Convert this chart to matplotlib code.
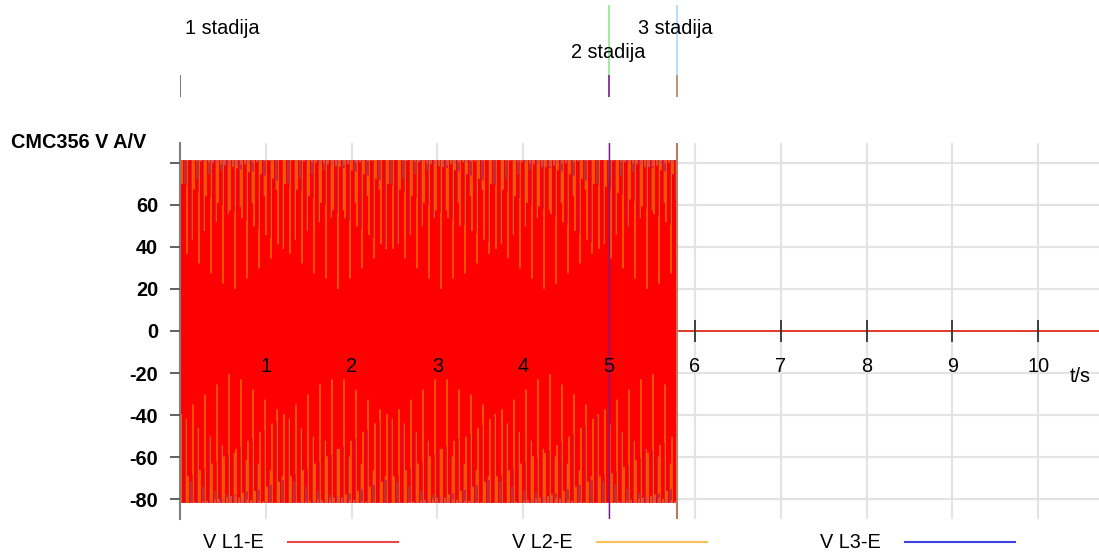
import numpy as np
import matplotlib
matplotlib.use("Agg")
import matplotlib.pyplot as plt
from matplotlib.lines import Line2D

plt.rcParams["font.family"] = ["Liberation Sans", "DejaVu Sans"]

# --- recorded quantities -------------------------------------------------
phase_names = ["V L1-E", "V L2-E", "V L3-E"]
peak_volts = [81.6, 81.6, 81.6]          # sine peak of each phase-to-earth voltage
phase_angle_deg = [0.0, -120.0, 120.0]
mains_hz = 50.0
signal_end_s = 5.79                      # output switched off here
record_end_s = 10.707

stage_names = ["1 stadija", "2 stadija", "3 stadija"]
stage_times = [0.0, 5.0, 5.79]

y_ticks = [-80, -60, -40, -20, 0, 20, 40, 60, 80]
y_tick_labels = ["-80", "-60", "-40", "-20", "0", "20", "40", "60", ""]
x_ticks = [1, 2, 3, 4, 5, 6, 7, 8, 9, 10]

# --- styling --------------------------------------------------------------
phase_colors = ["#ff0000", "#ffa500", "#1010ee"]
legend_colors = ["#e84848", "#f7c15a", "#4040e0"]
stage_top_colors = [None, "#90e890", "#b0d8f8"]
stage_low_colors = ["#606060", "#7a1a8a", "#b08060"]
FS = 14.3

W, H = 1099, 554
fig = plt.figure(figsize=(W / 100, H / 100), dpi=100)

x0_px, x1_px = 180.0, 1099.0
top_px, bot_px = 143.0, 519.0
ax = fig.add_axes([x0_px / W, 1 - bot_px / H, (x1_px - x0_px) / W, (bot_px - top_px) / H])
ax.set_xlim(0, record_end_s)
ax.set_ylim(-89.5, 89.5)

# background grid
ax.vlines(x_ticks, -89.5, 89.5, color="#e3e3e3", lw=1.5, zorder=1)
ax.hlines(y_ticks, 0, record_end_s, color="#e3e3e3", lw=1.5, zorder=1)

# sampled record of the three phase voltages
fs = 10000.0
t = np.arange(0, record_end_s, 1 / fs)
on = t < signal_end_s
waves = []
for k in range(3):
    v = peak_volts[k] * np.sin(2 * np.pi * mains_hz * t + np.deg2rad(phase_angle_deg[k]))
    v[~on] = 0.0
    waves.append(v)

# min/max envelope per screen pixel column (oscilloscope-style decimation)
fig.canvas.draw()
bbox = ax.get_window_extent()
bin_w = record_end_s / bbox.width
t_on = t[on]
idx = np.floor(t_on / bin_w).astype(int)
starts = np.flatnonzero(np.r_[True, np.diff(idx) > 0])
edges = idx[starts] * bin_w
edges = np.r_[edges, min(edges[-1] + bin_w, signal_end_s)]
for k in (2, 1, 0):
    seg = waves[k][on]
    lo = np.minimum.reduceat(seg, starts)
    hi = np.maximum.reduceat(seg, starts)
    ax.fill_between(edges, np.r_[lo, lo[-1]], np.r_[hi, hi[-1]], step="post",
                    color=phase_colors[k], lw=0, zorder=3 + (2 - k))
    ax.plot(t[~on], waves[k][~on], color=phase_colors[k], lw=0.8, zorder=3 + (2 - k))

# stage markers inside the plot
ax.axvline(stage_times[1], color=stage_low_colors[1], lw=1.0, zorder=8)
ax.axvline(stage_times[2], color=stage_low_colors[2], lw=1.5, zorder=8)

# axes styling
for s in ("top", "right"):
    ax.spines[s].set_visible(False)
ax.spines["bottom"].set_position(("data", 0))
ax.spines["bottom"].set_visible(False)
ax.spines["left"].set_color("#808080")
ax.spines["left"].set_linewidth(1.5)
ax.spines["left"].set_zorder(9)
ax.xaxis.set_zorder(20)
ax.yaxis.set_zorder(20)

ax.set_yticks(y_ticks)
ax.set_yticklabels(y_tick_labels, fontsize=FS, fontweight="bold")
ax.tick_params(axis="y", direction="out", length=7.2, width=1.3, color="#555555", pad=8.6)

ax.set_xticks(x_ticks)
ax.set_xticklabels([str(v) for v in x_ticks], fontsize=FS)
ax.tick_params(axis="x", direction="inout", length=15.8, width=1.3, color="#333333", pad=11.0)
for pos, tk in zip(x_ticks, ax.xaxis.get_major_ticks()):
    if pos < signal_end_s:
        tk.tick1line.set_visible(False)

# labels
fig.text(11 / W, 1 - 142 / H, "CMC356 V A/V", fontsize=FS, fontweight="bold", va="center", ha="left")
fig.text(1070 / W, 1 - 377 / H, "t/s", fontsize=FS, va="center", ha="left")

# stage header strip
axs = fig.add_axes([x0_px / W, 1 - 100 / H, (x1_px - x0_px) / W, 100 / H], sharex=ax)
axs.set_ylim(100, 0)
axs.axis("off")
stage_text_y = [28, 52, 28]
stage_text_dx = [0.06, -0.45, -0.45]
for i, ts in enumerate(stage_times):
    if stage_top_colors[i] is not None:
        axs.vlines(ts, 5, 75, color=stage_top_colors[i], lw=1.2)
    axs.vlines(ts, 75, 97, color=stage_low_colors[i], lw=1.2)
    axs.text(ts + stage_text_dx[i], stage_text_y[i], stage_names[i], fontsize=FS,
             va="center", ha="left", zorder=5)

# legend row
legend_text_x = [203, 512, 820]
for i, name in enumerate(phase_names):
    fig.text(legend_text_x[i] / W, 1 - 542 / H, name, fontsize=FS, va="center", ha="left")
    lx = legend_text_x[i] + 85
    fig.add_artist(Line2D([lx / W, (lx + 110) / W], [1 - 542 / H, 1 - 542 / H],
                          color=legend_colors[i], lw=1.5))

fig.savefig("out.png", dpi=100)
